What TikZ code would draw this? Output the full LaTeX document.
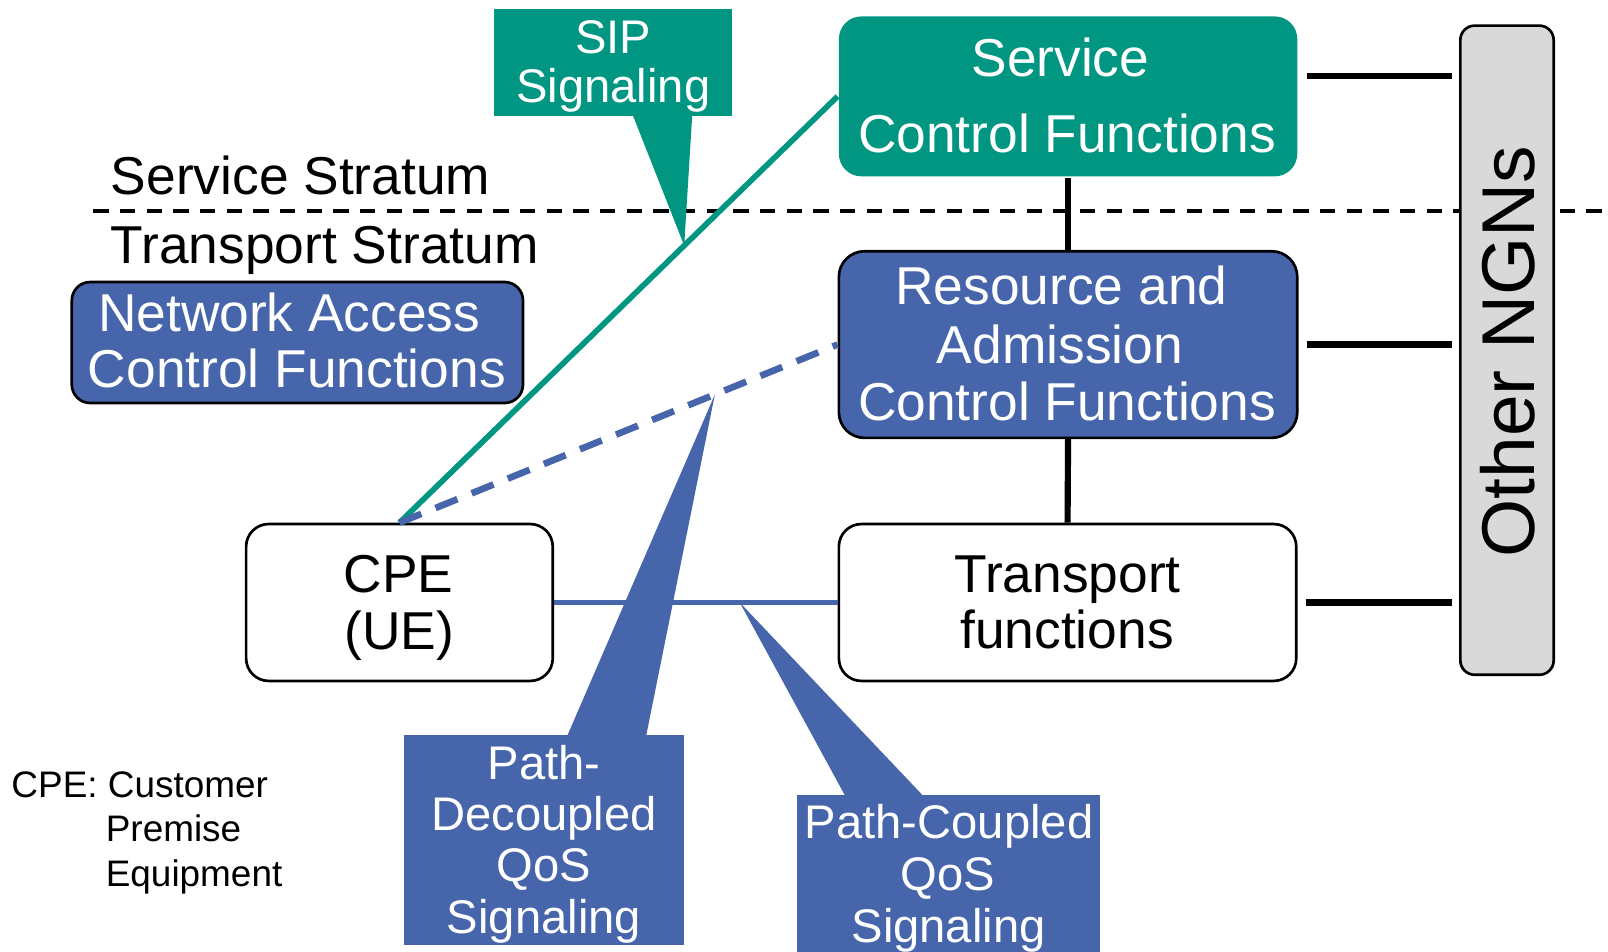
\documentclass[tikz,border=0pt]{standalone}
\usepackage{fontspec}
\setmainfont{Liberation Sans}
\usetikzlibrary{calc}
\definecolor{ngnteal}{RGB}{0,150,130}
\definecolor{ngnblue}{RGB}{70,101,170}
\definecolor{ngngray}{RGB}{217,217,217}

\begin{document}
\begin{tikzpicture}[x=1pt,y=-1pt,
  fbox/.style={rounded corners=22pt, inner sep=0pt, line width=2.6pt},
  bigtxt/.style={font=\fontsize{52}{60}\selectfont, anchor=base, inner sep=0pt},
  midtxt/.style={font=\fontsize{46}{52}\selectfont, anchor=base, inner sep=0pt, text=white},
  smalltxt/.style={font=\fontsize{36}{43}\selectfont, anchor=base west, inner sep=0pt},
  wtxt/.style={bigtxt, text=white},
  blk/.style={line width=6pt, black},
  sidelink/.style={blk, shorten <=8pt, shorten >=7pt},
  siplink/.style={line width=5.5pt, ngnteal},
  qoslink/.style={line width=5.5pt, ngnblue},
  qosdash/.style={line width=6.5pt, ngnblue, dash pattern=on 23pt off 15pt},
  divider/.style={line width=3.5pt, black, dash pattern=on 15pt off 11pt},
  callout/.style={inner sep=0pt, draw=none}
]
\useasboundingbox (0,0) rectangle (1568,928);

% stratum divider
\draw[divider] (91,206) -- (1568,206);
\node[smalltxt, font=\fontsize{52}{60}\selectfont] (svc) at (108,190) {Service Stratum};
\node[smalltxt, font=\fontsize{52}{60}\selectfont] (trn) at (108,257) {Transport Stratum};

% functional blocks
\node[fbox, fill=ngnteal, minimum width=447pt, minimum height=156pt] (scf) at (1041.5,94) {};
\node[fbox, draw, fill=ngnblue, rounded corners=25pt, minimum width=447pt, minimum height=182pt] (racf) at (1041.5,336) {};
\node[fbox, draw, fill=white, minimum width=446pt, minimum height=153pt] (tf) at (1041,587.5) {};
\node[fbox, draw, fill=white, minimum width=299pt, minimum height=153pt] (cpe) at (389.5,587.5) {};
\node[fbox, draw, fill=ngnblue, rounded corners=18pt, minimum width=440pt, minimum height=118pt] (nacf) at (290,334) {};
\node[fbox, draw, fill=ngngray, rounded corners=14pt, minimum width=91pt, minimum height=633pt] (ngn) at (1469.5,341.5) {};

% signalling paths
\draw[siplink] (cpe.north) -- (scf.west);
\draw[qosdash] (cpe.north) -- (racf.west);
\draw[qoslink] (cpe.east) -- (tf.west);

% links inside the NGN and towards other NGNs
\draw[blk] (scf.south) -- (racf.north);
\draw[blk] (racf.south) -- (tf.north);
\draw[sidelink] ([yshift=20pt]scf.east) -- ([yshift=20pt]scf.east -| ngn.west);
\draw[sidelink] (racf.east) -- (racf.east -| ngn.west);
\draw[sidelink] (tf.east) -- (tf.east -| ngn.west);

% callouts
\node[callout, fill=ngnteal, minimum width=232pt, minimum height=104pt] (sip) at (598,61) {};
\coordinate (siptip) at ($(cpe.north)!0.65!(scf.west)$);
\fill[ngnteal] ($(sip.south)+(19,-1)$) -- (siptip) -- ($(sip.south)+(77,-1)$) -- cycle;

\node[callout, fill=ngnblue, minimum width=273pt, minimum height=204pt] (pd) at (530.5,819) {};
\coordinate (pdtip) at ($(cpe.north)!0.72!(racf.west)$);
\fill[ngnblue] ($(pd.north)+(22.5,1)$) -- (pdtip) -- ($(pd.north)+(99.5,1)$) -- cycle;

\node[callout, fill=ngnblue, minimum width=296pt, minimum height=153pt] (pc) at (925,851.5) {};
\coordinate (pctip) at ($(cpe.east)!0.655!(tf.west)$);
\fill[ngnblue] ($(pc.north)+(-101,1)$) -- (pctip) -- ($(pc.north)+(-25,1)$) -- cycle;

% block labels
\node[wtxt] (scf1) at (1034,75) {Service};
\node[wtxt] (scf2) at (1040.5,149) {Control Functions};
\node[wtxt] (racf1) at (1035,297) {Resource and};
\node[wtxt] (racf2) at (1033.5,354) {Admission};
\node[wtxt] (racf3) at (1040.5,410.5) {Control Functions};
\node[bigtxt] (tf1) at (1041,578) {Transport};
\node[bigtxt] (tf2) at (1040.5,632) {functions};
\node[bigtxt] (cpe1) at (388.5,578) {CPE};
\node[bigtxt] (cpe2) at (389.5,633) {(UE)};
\node[wtxt] (nacf1) at (282,323.5) {Network Access};
\node[wtxt] (nacf2) at (289.5,378) {Control Functions};
\node[bigtxt, font=\fontsize{73}{80}\selectfont, rotate=90] (ngn1) at (1496,343) {Other NGNs};

% callout labels
\node[midtxt] (sip1) at (598,52) {SIP};
\node[midtxt] (sip2) at (598,100) {Signaling};
\node[midtxt] (pd1) at (530.5,760) {Path-};
\node[midtxt] (pd2) at (530.5,810) {Decoupled};
\node[midtxt] (pd3) at (530.5,860) {QoS};
\node[midtxt] (pd4) at (530.5,910) {Signaling};
\node[midtxt] (pc1) at (925.5,818) {Path-Coupled};
\node[midtxt] (pc2) at (924.5,868) {QoS};
\node[midtxt] (pc3) at (925,919) {Signaling};

% abbreviation note
\node[smalltxt] (note1) at (11,778) {CPE: Customer};
\node[smalltxt] (note2) at (103,821) {Premise};
\node[smalltxt] (note3) at (103,864) {Equipment};
\end{tikzpicture}
\end{document}
